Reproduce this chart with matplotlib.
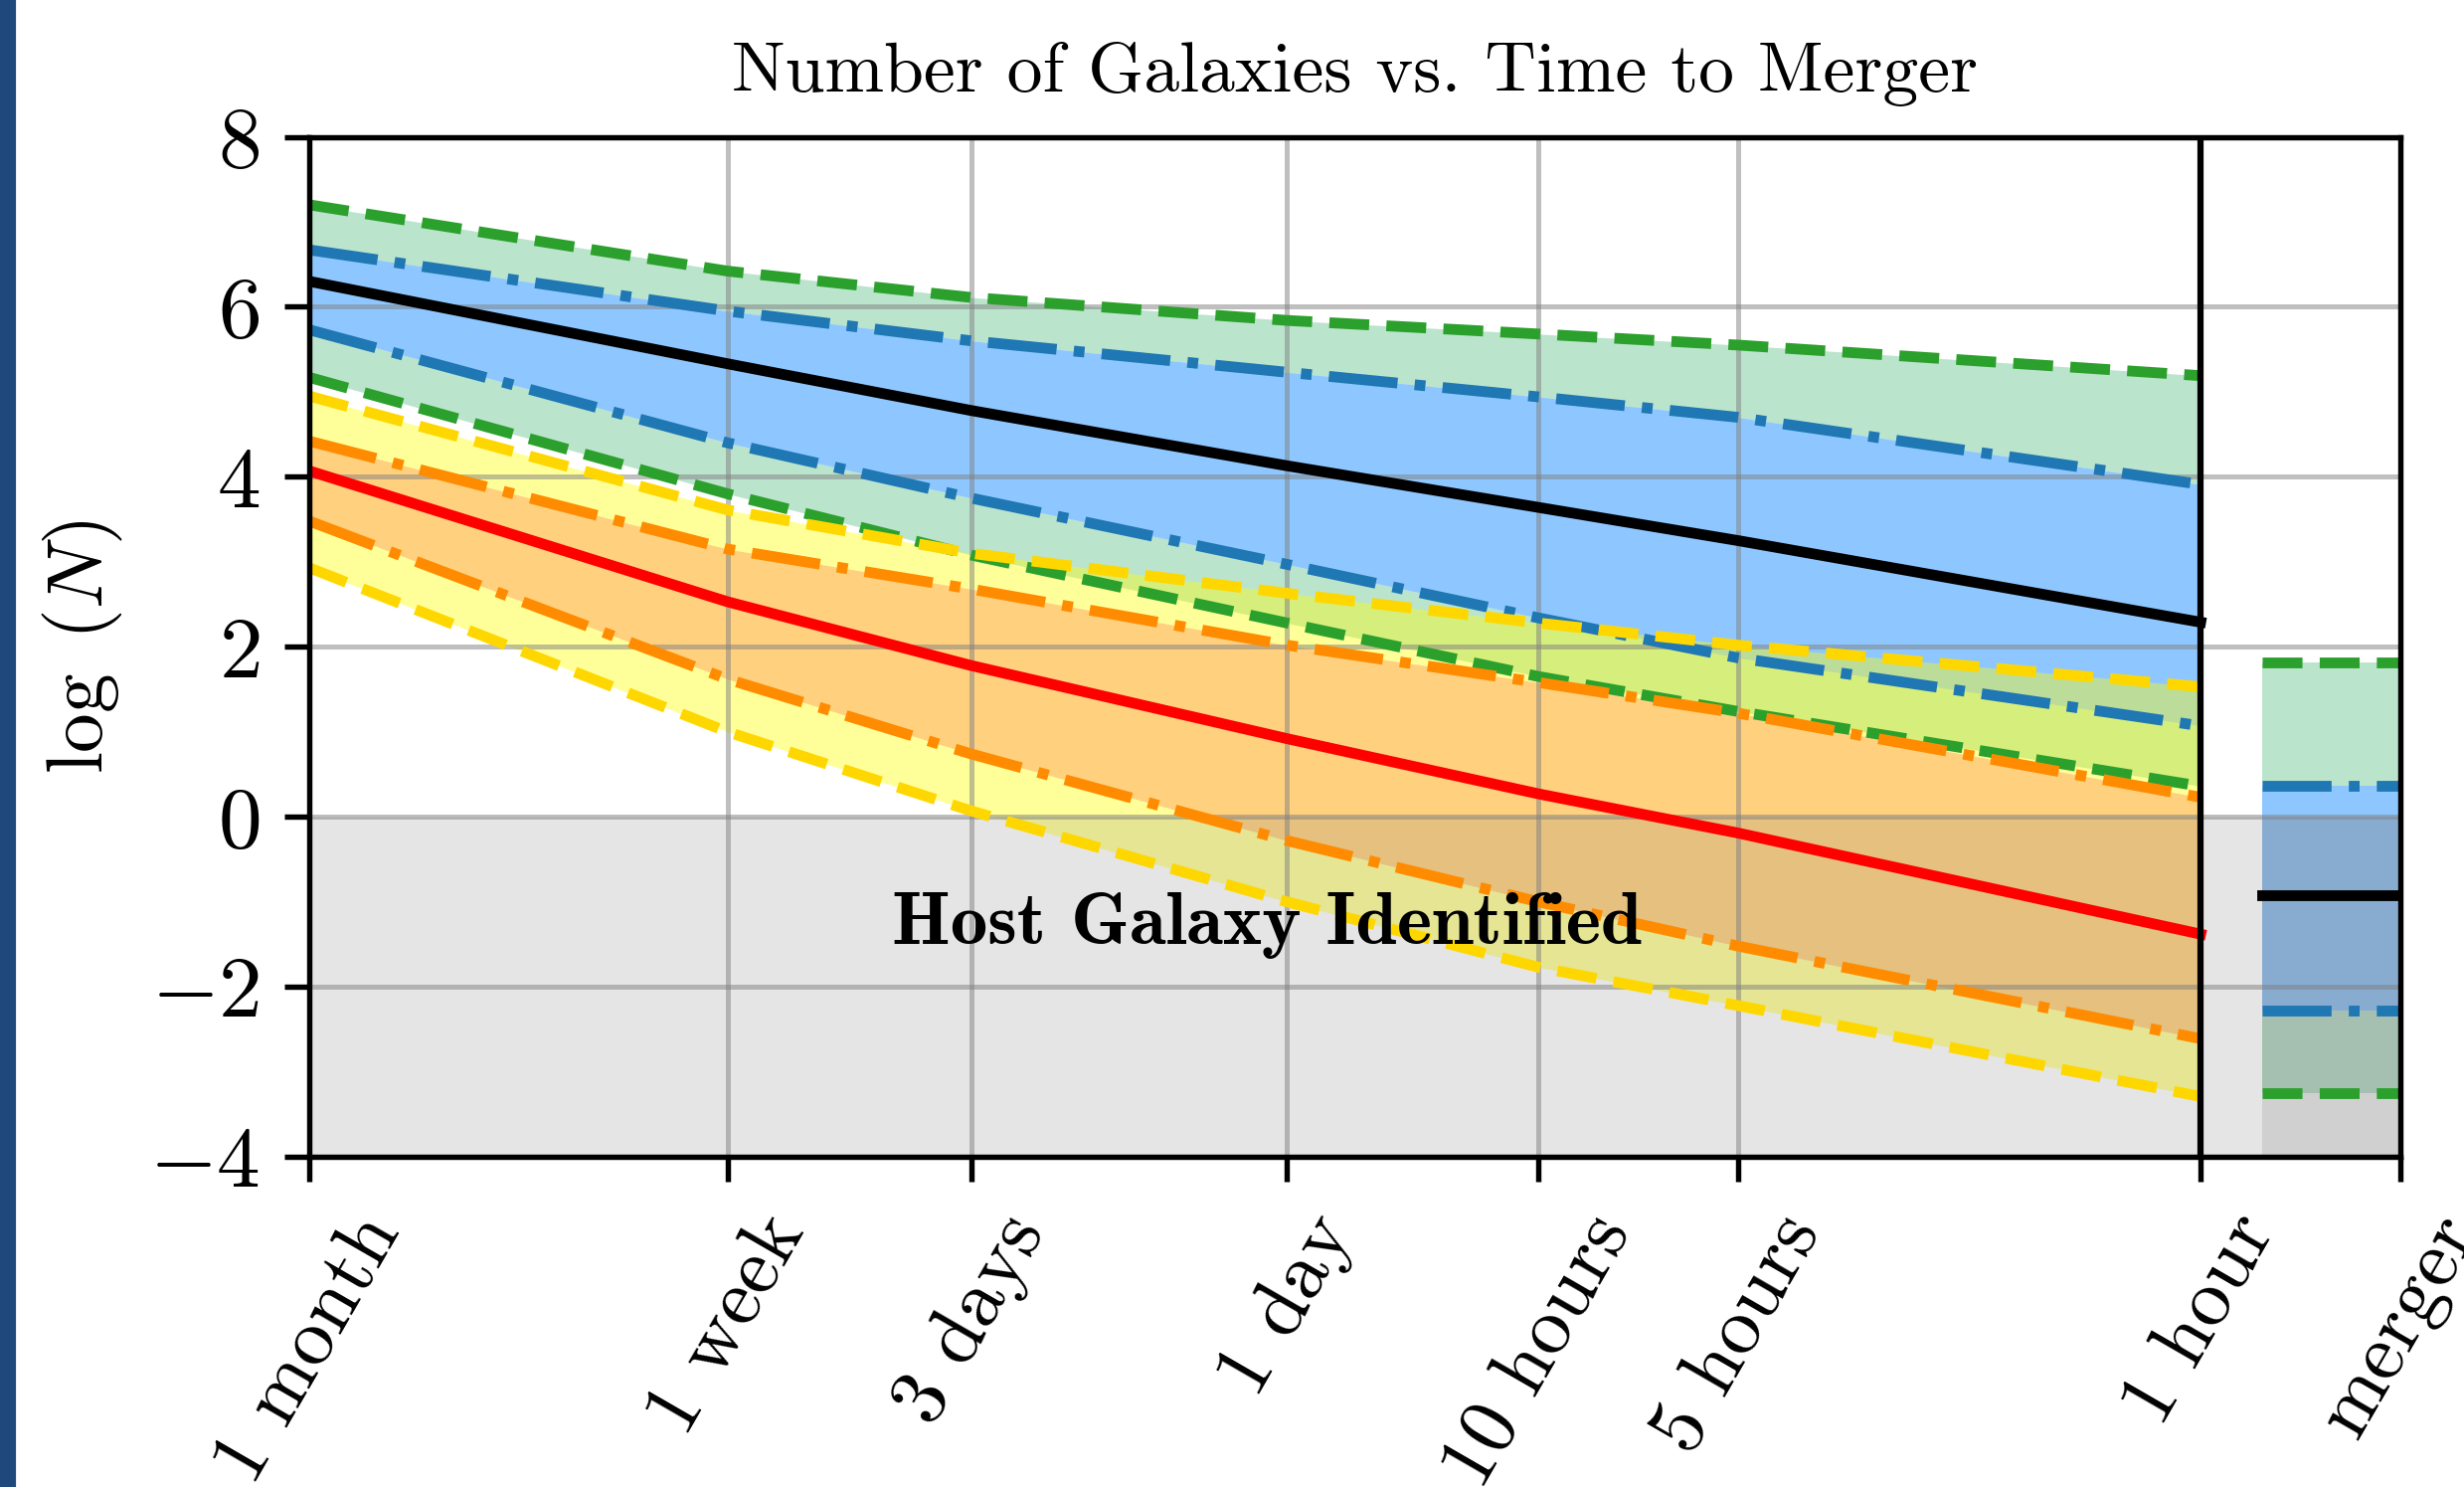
import numpy as np
import matplotlib
matplotlib.use("Agg")
import matplotlib.pyplot as plt
from matplotlib.patches import Rectangle

plt.rcParams['font.family'] = 'cmr10'
plt.rcParams['mathtext.fontset'] = 'cm'
plt.rcParams['axes.formatter.use_mathtext'] = True
plt.rcParams['axes.unicode_minus'] = True

# time before merger (hours) and tick labels
tick_labels = ['1 month', '1 week', '3 days', '1 day', '10 hours', '5 hours', '1 hour', 'merger']
hours = [720, 168, 72, 24, 10, 5, 1]
merger_hours = 0.5

# bright galaxies: median with 1 and 2 sigma bounds (log N)
upper_2s_hi = [7.20, 6.42, 6.11, 5.84, 5.68, 5.55, 5.19]
upper_1s_hi = [6.67, 5.95, 5.60, 5.23, 4.94, 4.70, 3.91]
upper_med = [6.30, 5.33, 4.78, 4.13, 3.64, 3.25, 2.29]
upper_1s_lo = [5.73, 4.40, 3.75, 2.97, 2.34, 1.87, 1.07]
upper_2s_lo = [5.17, 3.80, 3.08, 2.28, 1.65, 1.24, 0.36]

# faint galaxies
lower_2s_hi = [4.95, 3.61, 3.10, 2.63, 2.28, 2.02, 1.53]
lower_1s_hi = [4.42, 3.15, 2.68, 2.02, 1.58, 1.22, 0.23]
lower_med = [4.07, 2.53, 1.78, 0.92, 0.27, -0.19, -1.38]
lower_1s_lo = [3.48, 1.62, 0.74, -0.28, -1.00, -1.52, -2.61]
lower_2s_lo = [2.93, 1.00, 0.07, -1.00, -1.77, -2.22, -3.29]

# at merger
merger_2s_hi = 1.82
merger_1s_hi = 0.37
merger_med = -0.92
merger_1s_lo = -2.28
merger_2s_lo = -3.25

x = np.log10(hours)
x_merger = np.log10(merger_hours)
xm = np.array([-0.093, x_merger])

fig, ax = plt.subplots(figsize=(2478 / 300, 1495 / 300), dpi=300)
fig.subplots_adjust(left=0.1255, right=0.974, bottom=0.222, top=0.908)
fig.patches.append(Rectangle((0, 0), 14 / 2478, 1, transform=fig.transFigure,
                             color='#1f497d', zorder=0))

# shaded bands
ax.fill_between(x, upper_1s_hi, upper_2s_hi, color='mediumseagreen', alpha=0.35, lw=0)
ax.fill_between(x, upper_2s_lo, upper_1s_lo, color='mediumseagreen', alpha=0.35, lw=0)
ax.fill_between(x, upper_1s_lo, upper_1s_hi, color='dodgerblue', alpha=0.5, lw=0)
ax.fill_between(x, lower_1s_hi, lower_2s_hi, color='yellow', alpha=0.4, lw=0)
ax.fill_between(x, lower_2s_lo, lower_1s_lo, color='yellow', alpha=0.4, lw=0)
ax.fill_between(x, lower_1s_lo, lower_1s_hi, color='orange', alpha=0.5, lw=0)

ax.fill_between(xm, merger_1s_hi, merger_2s_hi, color='mediumseagreen', alpha=0.35, lw=0)
ax.fill_between(xm, merger_2s_lo, merger_1s_lo, color='mediumseagreen', alpha=0.35, lw=0)
ax.fill_between(xm, merger_1s_lo, merger_1s_hi, color='dodgerblue', alpha=0.5, lw=0)

# region where the host can be identified
ax.axhspan(-4, 0, color='gray', alpha=0.2, lw=0, zorder=1.2)
ax.fill_between(xm, -4, 0, color='gray', alpha=0.2, lw=0, zorder=1.2)

lw = 2.6
ax.plot(x, upper_2s_hi, '--', color='tab:green', lw=lw)
ax.plot(x, upper_2s_lo, '--', color='tab:green', lw=lw)
ax.plot(x, upper_1s_hi, '-.', color='tab:blue', lw=lw)
ax.plot(x, upper_1s_lo, '-.', color='tab:blue', lw=lw)
ax.plot(x, upper_med, '-', color='black', lw=lw)

ax.plot(x, lower_2s_hi, '--', color='gold', lw=lw)
ax.plot(x, lower_2s_lo, '--', color='gold', lw=lw)
ax.plot(x, lower_1s_hi, '-.', color='darkorange', lw=lw)
ax.plot(x, lower_1s_lo, '-.', color='darkorange', lw=lw)
ax.plot(x, lower_med, '-', color='red', lw=lw)

ax.plot(xm, [merger_2s_hi] * 2, '--', color='tab:green', lw=lw)
ax.plot(xm, [merger_2s_lo] * 2, '--', color='tab:green', lw=lw)
ax.plot(xm, [merger_1s_hi] * 2, '-.', color='tab:blue', lw=lw)
ax.plot(xm, [merger_1s_lo] * 2, '-.', color='tab:blue', lw=lw)
ax.plot(xm, [merger_med] * 2, '-', color='black', lw=lw)

ax.axvline(0, color='black', lw=1.5, zorder=2.5)

ax.text(1.41, -1.28, 'Host Galaxy Identified', family='cmb10', fontsize=18,
        ha='center', va='center')

ax.set_xticks(list(x) + [x_merger])
ax.set_xticklabels(tick_labels, rotation=60, fontsize=19.5)
ax.set_xlim(x[0], x_merger)
ax.set_ylim(-4, 8)
ax.set_yticks(np.arange(-4, 9, 2))
ax.tick_params(direction='out', length=6, width=1.3, pad=5)
ax.tick_params(axis='y', labelsize=21, pad=6)
ax.grid(True, color='gray', alpha=0.5, lw=1.2)
for sp in ax.spines.values():
    sp.set_linewidth(1.3)

ax.set_ylabel(r'$\log\ (N)$', fontsize=19, labelpad=6)
ax.set_title('Number of Galaxies vs. Time to Merger', fontsize=17.2, pad=11)

fig.savefig('out.png', dpi=300)
